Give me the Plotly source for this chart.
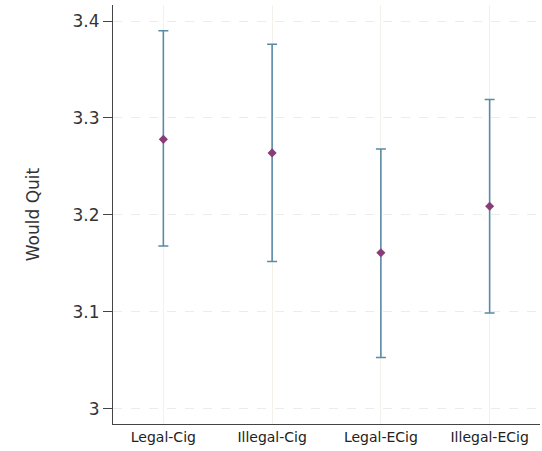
import plotly.graph_objects as go

categories = ["Legal-Cig", "Illegal-Cig", "Legal-ECig", "Illegal-ECig"]
means = [3.278, 3.264, 3.161, 3.209]
ci_low = [3.168, 3.152, 3.053, 3.099]
ci_high = [3.390, 3.376, 3.268, 3.319]
y_ticks = [3.0, 3.1, 3.2, 3.3, 3.4]
y_tick_labels = ["3", "3.1", "3.2", "3.3", "3.4"]

xpos = list(range(1, len(categories) + 1))
err_plus = [h - m for h, m in zip(ci_high, means)]
err_minus = [m - l for m, l in zip(means, ci_low)]

fig = go.Figure()
fig.add_trace(go.Scatter(
    x=xpos, y=means, mode="markers",
    marker=dict(symbol="diamond", size=7, color="#8a3c78"),
    error_y=dict(type="data", symmetric=False, array=err_plus, arrayminus=err_minus,
                 color="#5a8aa6", thickness=1.6, width=5),
    showlegend=False,
))

fig.update_layout(
    width=542, height=451,
    margin=dict(l=113, r=2, t=5, b=27),
    plot_bgcolor="white", paper_bgcolor="white",
    font=dict(family="DejaVu Sans, Arial, sans-serif", color="#333333"),
)
fig.update_xaxes(
    range=[0.537, 4.463], tickvals=xpos, ticktext=categories,
    showline=True, linecolor="#444444", linewidth=1.2,
    showgrid=True, gridcolor="#f4f0ea", gridwidth=1,
    ticks="", tickfont=dict(size=14, color="#222222"), zeroline=False,
)
fig.update_yaxes(
    range=[2.9845, 3.4165], tickvals=y_ticks, ticktext=y_tick_labels,
    showline=True, linecolor="#444444", linewidth=1.2,
    showgrid=True, gridcolor="#ececec", gridwidth=1, griddash="dash",
    ticks="outside", ticklen=9, tickcolor="#444444",
    tickfont=dict(size=17, color="#333333"), zeroline=False,
    title=dict(text="Would Quit", font=dict(size=17, color="#333333"), standoff=28),
)

fig.write_html("out.html", config={"displayModeBar": False},
               post_script="document.body.style.margin='0';")
